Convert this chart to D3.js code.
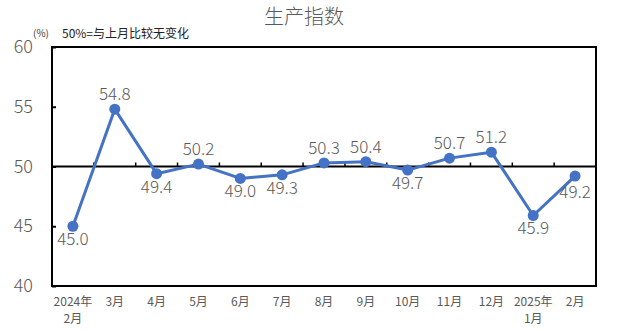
<!DOCTYPE html>
<html><head><meta charset="utf-8">
<script src="https://cdn.jsdelivr.net/npm/d3@7"></script>
<style>body{margin:0;background:#fff}svg{display:block}text{font-family:"Noto Sans CJK SC","Noto Sans",sans-serif}</style>
</head><body><svg id="c" width="622" height="331"></svg>
<script>
const categories = ["2024年\n2月","3月","4月","5月","6月","7月","8月","9月","10月","11月","12月","2025年\n1月","2月"];
const values = [45.0,54.8,49.4,50.2,49.0,49.3,50.3,50.4,49.7,50.7,51.2,45.9,49.2];
const labelPos = ["below","above","below","above","below","below","above","above","below","above","above","below","below"];
const yTicks = [40,45,50,55,60];
const title = "生产指数";
const unit = "(%)";
const note = "50%=与上月比较无变化";

const svg = d3.select("#c");
const m = {l:52, r:596, t:47, b:286};
const x = d3.scaleBand().domain(categories.map((d,i)=>i)).range([m.l,m.r]);
const y = d3.scaleLinear().domain([40,60]).range([m.b,m.t]);
const cx = i => x(i) + x.bandwidth()/2;

svg.append("text").attr("x",304).attr("y",24).attr("text-anchor","middle")
  .attr("font-size",20).attr("font-weight",300).attr("fill","#595959").text(title);
svg.append("text").attr("x",33).attr("y",37).attr("font-size",10).attr("fill","#404040").text(unit);
svg.append("text").attr("x",62).attr("y",38).attr("font-size",12).attr("fill","#222").text(note);

// plot box
svg.append("rect").attr("x",m.l).attr("y",m.t).attr("width",m.r-m.l).attr("height",m.b-m.t)
  .attr("fill","none").attr("stroke","#000").attr("stroke-width",2);

// y axis
const yAxis = d3.axisRight(y).tickValues(yTicks).tickSize(4).tickFormat("");
const gy = svg.append("g").attr("transform",`translate(${m.l},0)`).call(yAxis);
gy.select(".domain").remove();
gy.selectAll("line").attr("stroke","#000").attr("stroke-width",2);
svg.append("g").selectAll("text").data(yTicks).join("text")
  .attr("x",33).attr("y",d=>y(d)+6).attr("text-anchor","end")
  .attr("font-size",18).attr("font-weight",300).attr("fill","#595959").text(d=>d);

// 50 line with ticks at category boundaries
svg.append("line").attr("x1",m.l).attr("x2",m.r).attr("y1",y(50)).attr("y2",y(50))
  .attr("stroke","#000").attr("stroke-width",2);
const bounds = categories.slice(1).map((d,i)=>x(i+1));
svg.append("g").selectAll("line").data(bounds).join("line")
  .attr("x1",d=>d).attr("x2",d=>d).attr("y1",y(50)).attr("y2",y(50)-4)
  .attr("stroke","#000").attr("stroke-width",1.5);

// x labels
const xl = svg.append("g").selectAll("text").data(categories).join("text")
  .attr("text-anchor","middle").attr("font-size",12).attr("fill","#595959");
xl.each(function(d,i){
  const parts = d.split("\n");
  d3.select(this).selectAll("tspan").data(parts).join("tspan")
    .attr("x",cx(i)).attr("y",(p,j)=>306+j*17).text(p=>p);
});

// line
const line = d3.line().x((d,i)=>cx(i)).y(d=>y(d));
svg.append("path").datum(values).attr("d",line).attr("fill","none")
  .attr("stroke","#4472C4").attr("stroke-width",3).attr("stroke-linejoin","round");
svg.append("g").selectAll("circle").data(values).join("circle")
  .attr("cx",(d,i)=>cx(i)).attr("cy",d=>y(d)).attr("r",5.5).attr("fill","#4472C4");

svg.append("g").selectAll("text").data(values).join("text")
  .attr("x",(d,i)=>cx(i)).attr("y",(d,i)=>y(d)+(labelPos[i]==="above"?-9:(i===12?22:19)))
  .attr("text-anchor","middle").attr("font-size",17).attr("font-weight",300).attr("fill","#595959")
  .text(d=>d.toFixed(1));
</script></body></html>
